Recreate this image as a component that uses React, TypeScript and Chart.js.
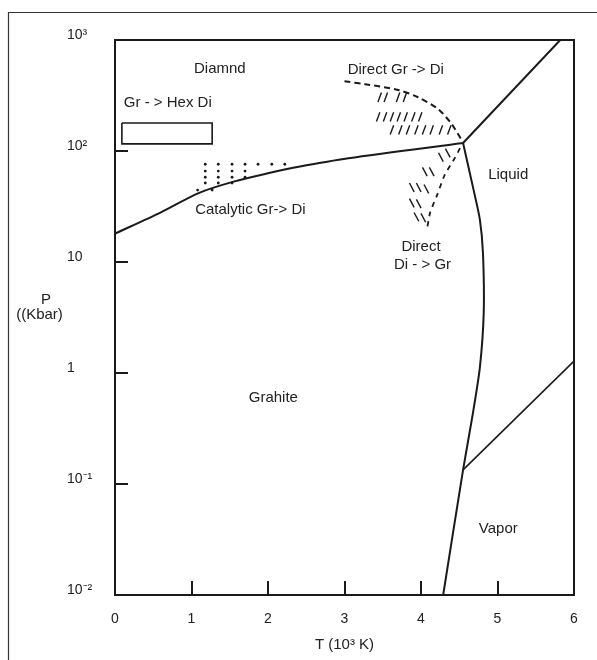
import React, { useEffect, useRef } from 'react';
import { Chart, registerables } from 'chart.js';

Chart.register(...registerables);

const FONT = "'Liberation Sans', Arial, Helvetica, sans-serif";
const INK = '#1a1a1a';

// Axis ticks
const xTicks = [0, 1, 2, 3, 4, 5, 6];
const xTickLabels = ['0', '1', '2', '3', '4', '5', '6'];
const yTicks = [0.01, 0.1, 1, 10, 100, 1000];
const yTickLabels = ['10⁻²', '10⁻¹', '1', '10', '10²', '10³'];

// Graphite / diamond boundary (T in 10^3 K, P in kbar)
const grDiT = [0, 0.6, 1.1, 1.55, 2.0, 2.4, 3.05, 4.55];
const grDiP = [18, 28, 42, 53, 63, 72, 86, 118];

// Diamond / liquid boundary
const diLiqT = [4.55, 5.82];
const diLiqP = [118, 1000];

// Graphite / liquid (melting) boundary
const grLiqT = [4.55, 4.68, 4.77, 4.81, 4.82, 4.77, 4.68, 4.55, 4.29];
const grLiqP = [118, 47, 24, 12, 3.5, 1.13, 0.44, 0.134, 0.01];

// Liquid / vapor boundary
const liqVapT = [4.55, 6.0];
const liqVapP = [0.134, 1.28];

// Direct Gr -> Di (dashed)
const directGrDiT = [3.0, 3.27, 3.7, 3.96, 4.22, 4.4, 4.53];
const directGrDiP = [425, 400, 355, 305, 240, 175, 126];

// Direct Di -> Gr (dashed)
const directDiGrT = [4.51, 4.44, 4.31, 4.21, 4.12, 4.08];
const directDiGrP = [106, 86, 61, 40, 28, 20];

// Gr -> Hex Di box
const hexBoxT = [0.09, 1.27, 1.27, 0.09, 0.09];
const hexBoxP = [179, 179, 116, 116, 179];

// Catalytic region dots
const dotT = [1.18, 1.35, 1.53, 1.7, 1.87, 2.05, 2.22, 1.18, 1.35, 1.53, 1.7, 1.18, 1.35, 1.53, 1.7, 1.18, 1.35, 1.53, 1.08, 1.27];
const dotP = [76, 76, 76, 76, 76, 76, 76, 66, 66, 66, 66, 58, 58, 58, 58, 51.5, 51.5, 51.5, 44.5, 44.5];

// Hatch strokes (centres)
const hatchUpT = [3.46, 3.54, 3.7, 3.79, 3.44, 3.53, 3.62, 3.71, 3.8, 3.9, 3.99, 3.62, 3.73, 3.83, 3.94, 4.04, 4.14, 4.26, 4.37];
const hatchUpP = [305, 305, 305, 305, 203, 203, 203, 203, 203, 203, 203, 155, 155, 155, 155, 155, 155, 155, 155];
const hatchLowT = [4.26, 4.35, 4.05, 4.14, 3.88, 3.97, 4.07, 3.88, 3.97, 3.94, 4.03];
const hatchLowP = [88, 96, 65, 65, 47, 47, 45.5, 34, 33.5, 25.5, 25];

// Region labels
const labelText = ['Diamnd', 'Gr - > Hex Di', 'Catalytic Gr-> Di', 'Direct Gr -> Di', 'Liquid', 'Direct', 'Di - > Gr', 'Grahite', 'Vapor'];
const labelT = [1.37, 0.69, 1.77, 3.67, 5.14, 4.0, 4.02, 2.07, 5.01];
const labelP = [548, 270, 29.4, 537, 60.8, 13.6, 9.4, 0.595, 0.0393];

const toPts = (t: number[], p: number[]) => t.map((v, i) => ({ x: v, y: p[i] }));

const lineDs = (t: number[], p: number[], extra: any = {}) => ({
  type: 'scatter' as const,
  data: toPts(t, p),
  showLine: true,
  borderColor: INK,
  borderWidth: 2,
  pointRadius: 0,
  pointHoverRadius: 0,
  tension: 0,
  fill: false,
  ...extra,
});

const decorPlugin = {
  id: 'decor',
  beforeDraw(chart: any) {
    const ctx = chart.ctx;
    ctx.save();
    ctx.strokeStyle = '#333';
    ctx.lineWidth = 1.2;
    ctx.beginPath();
    ctx.moveTo(8.5, chart.height);
    ctx.lineTo(8.5, 12.5);
    ctx.lineTo(chart.width, 12.5);
    ctx.stroke();
    ctx.restore();
  },
  afterDraw(chart: any) {
    const { ctx, chartArea: a } = chart;
    const x = chart.scales.x;
    const y = chart.scales.y;
    ctx.save();
    ctx.strokeStyle = INK;
    ctx.lineWidth = 2;
    ctx.strokeRect(a.left, a.top, a.right - a.left, a.bottom - a.top);
    ctx.beginPath();
    yTicks.slice(1, -1).forEach((v) => {
      const py = Math.round(y.getPixelForValue(v));
      ctx.moveTo(a.left, py);
      ctx.lineTo(a.left + 13, py);
    });
    xTicks.slice(1, -1).forEach((v) => {
      const px = Math.round(x.getPixelForValue(v));
      ctx.moveTo(px, a.bottom);
      ctx.lineTo(px, a.bottom - 14);
    });
    ctx.stroke();

    ctx.fillStyle = '#222';
    ctx.font = `15px ${FONT}`;
    ctx.textAlign = 'center';
    ctx.textBaseline = 'middle';
    labelText.forEach((t, i) => {
      ctx.fillText(t, x.getPixelForValue(labelT[i]), y.getPixelForValue(labelP[i]));
    });
    const mid = (a.top + a.bottom) / 2;
    ctx.fillText('P', a.left - 69, mid - 18);
    ctx.fillText('((Kbar)', a.left - 75.5, mid - 3);
    ctx.restore();
  },
};

export default function App() {
  const ref = useRef<HTMLCanvasElement | null>(null);

  useEffect(() => {
    if (!ref.current) return;
    const chart = new Chart(ref.current, {
      type: 'scatter',
      data: {
        datasets: [
          lineDs(grDiT, grDiP, { tension: 0.3 }),
          lineDs(diLiqT, diLiqP),
          lineDs(grLiqT, grLiqP, { tension: 0.25 }),
          lineDs(liqVapT, liqVapP, { borderWidth: 1.6 }),
          lineDs(directGrDiT, directGrDiP, { tension: 0.3, borderDash: [6, 4] }),
          lineDs(directDiGrT, directDiGrP, { tension: 0.2, borderDash: [5, 5], borderWidth: 1.8 }),
          lineDs(hexBoxT, hexBoxP, { borderWidth: 1.6 }),
          {
            type: 'scatter' as const,
            data: toPts(dotT, dotP),
            pointRadius: 1.4,
            pointBackgroundColor: INK,
            pointBorderWidth: 0,
            pointHoverRadius: 1.4,
          },
          {
            type: 'scatter' as const,
            data: toPts(hatchUpT, hatchUpP),
            pointStyle: 'line',
            pointRadius: 5,
            rotation: -70,
            pointBorderColor: INK,
            pointBorderWidth: 1.4,
            pointHoverRadius: 5,
          },
          {
            type: 'scatter' as const,
            data: toPts(hatchLowT, hatchLowP),
            pointStyle: 'line',
            pointRadius: 5,
            rotation: 62,
            pointBorderColor: INK,
            pointBorderWidth: 1.4,
            pointHoverRadius: 5,
          },
        ] as any,
      },
      options: {
        responsive: false,
        animation: false,
        events: [],
        layout: { padding: { left: 67, top: 40, right: 23, bottom: 0 } },
        plugins: { legend: { display: false }, tooltip: { enabled: false } },
        scales: {
          x: {
            type: 'linear',
            min: 0,
            max: 6,
            afterBuildTicks: (s: any) => {
              s.ticks = xTicks.map((v) => ({ value: v }));
            },
            afterFit: (s: any) => {
              s.height = 65;
            },
            grid: { display: false, drawTicks: false },
            border: { display: false },
            ticks: {
              padding: 16,
              color: '#222',
              font: { family: FONT, size: 14 },
              callback: (_v: any, i: number) => xTickLabels[i],
            },
            title: {
              display: true,
              text: 'T (10³ K)',
              color: '#222',
              font: { family: FONT, size: 15 },
              padding: { top: 0, bottom: 6 },
            },
          },
          y: {
            type: 'logarithmic',
            min: 0.01,
            max: 1000,
            afterBuildTicks: (s: any) => {
              s.ticks = yTicks.map((v) => ({ value: v }));
            },
            afterFit: (s: any) => {
              s.width = 48;
            },
            grid: { display: false, drawTicks: false },
            border: { display: false },
            ticks: {
              crossAlign: 'far',
              labelOffset: -5,
              color: '#222',
              font: { family: FONT, size: 14 },
              callback: (_v: any, i: number) => yTickLabels[i],
            },
          },
        },
      } as any,
      plugins: [decorPlugin],
    });
    return () => chart.destroy();
  }, []);

  return (
    <div style={{ position: 'absolute', left: 0, top: 0, width: 597, height: 660, background: '#fff' }}>
      <canvas ref={ref} width={597} height={660} style={{ display: 'block' }} />
    </div>
  );
}
